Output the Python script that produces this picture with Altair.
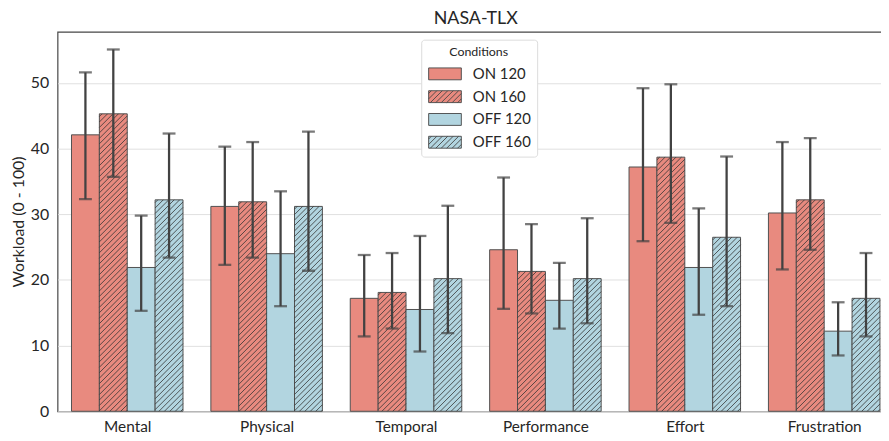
import json
import pandas as pd
import altair as alt

# ---------------- data ----------------
categories = ["Mental", "Physical", "Temporal", "Performance", "Effort", "Frustration"]
conditions = ["ON 120", "ON 160", "OFF 120", "OFF 160"]
hatched = ["ON 160", "OFF 160"]

on120_mean = [42.1, 31.2, 17.2, 24.6, 37.2, 30.2]
on120_low = [32.3, 22.3, 11.4, 15.6, 25.9, 21.6]
on120_high = [51.6, 40.3, 23.8, 35.6, 49.2, 41.0]

on160_mean = [45.3, 31.9, 18.1, 21.3, 38.7, 32.2]
on160_low = [35.7, 23.4, 12.6, 14.9, 28.7, 24.6]
on160_high = [55.1, 41.0, 24.1, 28.5, 49.8, 41.6]

off120_mean = [21.9, 24.0, 15.5, 16.9, 21.9, 12.2]
off120_low = [15.3, 16.0, 9.1, 12.6, 14.7, 8.5]
off120_high = [29.8, 33.5, 26.7, 22.6, 30.9, 16.6]

off160_mean = [32.2, 31.2, 20.2, 20.2, 26.5, 17.2]
off160_low = [23.4, 21.4, 11.9, 13.4, 16.0, 11.4]
off160_high = [42.3, 42.6, 31.3, 29.4, 38.8, 24.1]

y_ticks = [0, 10, 20, 30, 40, 50]

# ---------------- styling / layout ----------------
ON_COLOR = "#E88A7F"
OFF_COLOR = "#B2D5E0"
TEXT = "#262626"
FONT = "Lato"
W, H = 844, 383
YMAX = 57.8
GROUP = 0.8
BAR_W = GROUP / len(conditions)
HATCH_SP = 5.5

means = [on120_mean, on160_mean, off120_mean, off160_mean]
lows = [on120_low, on160_low, off120_low, off160_low]
highs = [on120_high, on160_high, off120_high, off160_high]

rows = []
for j, cond in enumerate(conditions):
    for i, cat in enumerate(categories):
        x0 = i - GROUP / 2 + j * BAR_W
        rows.append(dict(cat=cat, cond=cond, x0=x0, x1=x0 + BAR_W, xc=x0 + BAR_W / 2,
                         mean=means[j][i], low=lows[j][i], high=highs[j][i]))
df = pd.DataFrame(rows)

# hatch line segments for hatched bars (45 degree lines in screen space)
kx = W / len(categories)
ky = H / YMAX
hrows = []
for r in rows:
    if r["cond"] not in hatched:
        continue
    wpx = BAR_W * kx
    hpx = r["mean"] * ky
    c = -hpx + HATCH_SP / 2
    while c < wpx:
        xs, ys = max(c, 0.0), max(-c, 0.0)
        if wpx - c <= hpx:
            xe, ye = wpx, wpx - c
        else:
            xe, ye = hpx + c, hpx
        if xe - xs > 0.3:
            hrows.append(dict(hx=r["x0"] + xs / kx, hy=ys / ky,
                              hx2=r["x0"] + xe / kx, hy2=ye / ky))
        c += HATCH_SP
hdf = pd.DataFrame(hrows)

# legend symbol paths (rectangle, optionally with hatch lines)
SYM_SIZE = 441
r_unit = SYM_SIZE ** 0.5 / 2
hw, hh = 16.5 / r_unit, 6.0 / r_unit
sp = HATCH_SP / r_unit
rect_path = f"M{-hw:.3f},{-hh:.3f}H{hw:.3f}V{hh:.3f}H{-hw:.3f}Z"
lines = []
c = -hw - 2 * hh + sp / 2
while c < hw:
    xs, ys = c, hh
    xe, ye = c + 2 * hh, -hh
    if xs < -hw:
        ys = hh - (-hw - xs)
        xs = -hw
    if xe > hw:
        ye = hh - (hw - c)
        xe = hw
    if xe - xs > 0.05:
        lines.append(f"M{xs:.3f},{ys:.3f}L{xe:.3f},{ye:.3f}")
    c += sp
hatch_path = rect_path + "".join(lines)
shape_range = [hatch_path if c in hatched else rect_path for c in conditions]

# ---------------- scales / axes ----------------
xscale = alt.Scale(domain=[-0.5, len(categories) - 0.5], nice=False, zero=False)
yscale = alt.Scale(domain=[0, YMAX], nice=False)
label_expr = json.dumps(categories) + "[datum.value]"
xaxis = alt.Axis(values=list(range(len(categories))), labelExpr=label_expr, title=None,
                 grid=False, ticks=False, tickSize=0, domain=False, labelPadding=8,
                 labelFontSize=15.5, labelColor=TEXT, labelFont=FONT)
yaxis = alt.Axis(values=y_ticks, title="Workload (0 - 100)", grid=True, gridColor="#e0e0e0",
                 gridWidth=1, ticks=False, tickSize=0, domain=False, labelPadding=9,
                 labelFontSize=16, labelColor=TEXT, labelFont=FONT,
                 titleFont=FONT, titleFontSize=16, titleFontWeight="normal", titleColor=TEXT,
                 titlePadding=4)

legend = alt.Legend(title="Conditions", orient="none", legendX=367, legendY=8,
                    fillColor="white", strokeColor="#dcdcdc", cornerRadius=3, padding=6,
                    symbolSize=SYM_SIZE, symbolStrokeColor="#444444", symbolStrokeWidth=0.9,
                    symbolOffset=7, labelOffset=17, rowPadding=4,
                    labelFont=FONT, labelFontSize=15, labelColor=TEXT,
                    titleFont=FONT, titleFontSize=12.5, titleFontWeight="normal", titleColor=TEXT,
                    titleAnchor="middle", titlePadding=5)
color_scale = alt.Scale(domain=conditions, range=[ON_COLOR, ON_COLOR, OFF_COLOR, OFF_COLOR])

bars = alt.Chart(df).mark_bar(stroke="#505050", strokeWidth=1).encode(
    x=alt.X("x0:Q", scale=xscale, axis=xaxis),
    x2="x1:Q",
    y=alt.Y("mean:Q", scale=yscale, axis=yaxis),
    y2=alt.datum(0),
    color=alt.Color("cond:N", scale=color_scale, legend=legend),
)

legend_pts = alt.Chart(df).mark_point(filled=True, size=SYM_SIZE, opacity=1).encode(
    x="xc:Q",
    y="mean:Q",
    color=alt.Color("cond:N", scale=color_scale, legend=legend),
    shape=alt.Shape("cond:N", scale=alt.Scale(domain=conditions, range=shape_range), legend=legend),
).transform_filter("false")

hatch = alt.Chart(hdf).mark_rule(color="#333333", strokeWidth=0.8).encode(
    x="hx:Q", x2="hx2:Q", y="hy:Q", y2="hy2:Q"
)

err = alt.Chart(df).mark_rule(color="#424242", strokeWidth=2.3).encode(
    x="xc:Q", y="low:Q", y2="high:Q"
)
cap_lo = alt.Chart(df).mark_tick(color="#424242", orient="horizontal", size=13, thickness=2.3).encode(
    x="xc:Q", y="low:Q"
)
cap_hi = alt.Chart(df).mark_tick(color="#424242", orient="horizontal", size=13, thickness=2.3).encode(
    x="xc:Q", y="high:Q"
)

chart = alt.layer(bars, legend_pts, hatch, err, cap_lo, cap_hi).properties(
    width=W, height=H,
    autosize=alt.AutoSizeParams(type="none"),
    padding={"left": 50, "top": 22, "right": -13, "bottom": 24},
    title=alt.Title("NASA-TLX", font=FONT, fontSize=18, fontWeight="normal", color=TEXT,
                    anchor="middle", offset=4),
).configure_view(stroke="#474747", strokeWidth=1.2)

chart.save("out.html", embed_options={"renderer": "svg", "actions": False})
